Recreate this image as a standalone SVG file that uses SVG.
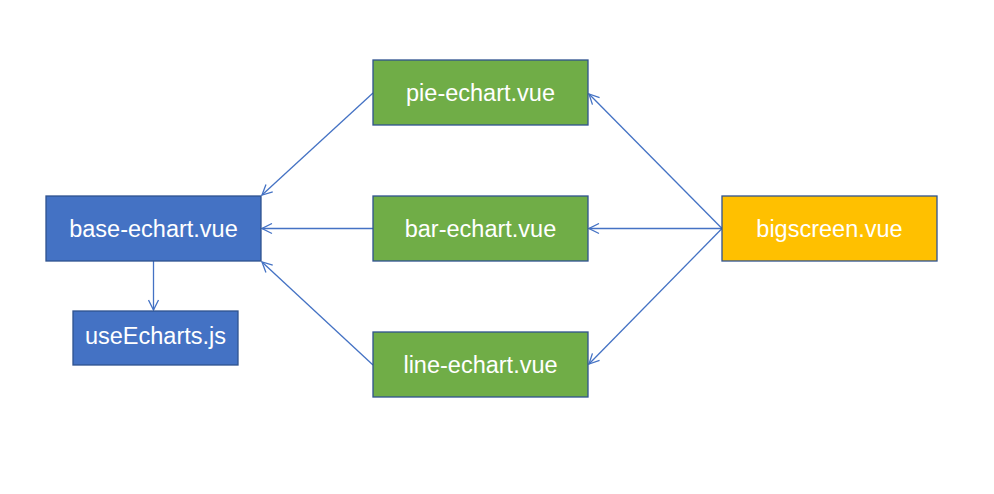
<svg xmlns="http://www.w3.org/2000/svg" width="994" height="494" viewBox="0 0 994 494">
<style>
.box{stroke:#2F528F;stroke-width:1.3}
.blue{fill:#4472C4}.green{fill:#70AD47}.yellow{fill:#FFC000}
.lbl{font-family:"Liberation Sans",Arial,sans-serif;font-size:23.5px;fill:#fff;text-anchor:middle;dominant-baseline:central}
.conn{stroke:#4472C4;stroke-width:1.3;fill:none;marker-end:url(#arr)}
</style>
<defs>
<marker id="arr" viewBox="0 0 12 12" refX="11" refY="6" markerWidth="12" markerHeight="12" markerUnits="userSpaceOnUse" orient="auto">
<polyline points="1,1 11,6 1,11" fill="none" stroke="#4472C4" stroke-width="1.3"/>
</marker>
</defs>
<rect width="994" height="494" fill="#fff"/>
<g id="connectors">
<line class="conn" x1="373" y1="93" x2="262" y2="195"/>
<line class="conn" x1="373" y1="228.5" x2="262" y2="228.5"/>
<line class="conn" x1="373" y1="365" x2="262" y2="262"/>
<line class="conn" x1="722" y1="228.5" x2="589" y2="94"/>
<line class="conn" x1="722" y1="228.5" x2="589" y2="228.5"/>
<line class="conn" x1="722" y1="228.5" x2="589" y2="364"/>
<line class="conn" x1="153.5" y1="261" x2="153.5" y2="310"/>
</g>
<g id="base-echart"><rect class="box blue" x="46" y="196" width="215" height="65"/><text class="lbl" x="153.5" y="228.5">base-echart.vue</text></g>
<g id="useEcharts"><rect class="box blue" x="73" y="311" width="165" height="54"/><text class="lbl" x="155.5" y="336">useEcharts.js</text></g>
<g id="pie-echart"><rect class="box green" x="373" y="60" width="215" height="65"/><text class="lbl" x="480.5" y="92.5">pie-echart.vue</text></g>
<g id="bar-echart"><rect class="box green" x="373" y="196" width="215" height="65"/><text class="lbl" x="480.5" y="228.5">bar-echart.vue</text></g>
<g id="line-echart"><rect class="box green" x="373" y="332" width="215" height="65"/><text class="lbl" x="480.5" y="364.5">line-echart.vue</text></g>
<g id="bigscreen"><rect class="box yellow" x="722" y="196" width="215" height="65"/><text class="lbl" x="829.5" y="228.5">bigscreen.vue</text></g>
</svg>
